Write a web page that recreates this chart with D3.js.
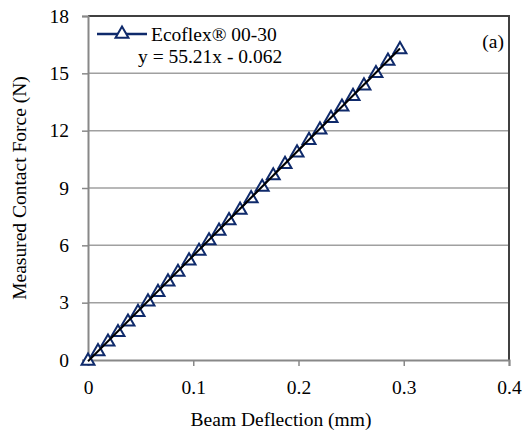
<!DOCTYPE html>
<html>
<head>
<meta charset="utf-8">
<script src="https://cdn.jsdelivr.net/npm/d3@7"></script>
<style>
  body { margin: 0; background: #fff; }
  svg text { font-family: "Times New Roman", "Liberation Serif", Tinos, serif; fill: #000; }
</style>
</head>
<body>
<div id="chart"></div>
<script>
// beam deflection (mm) vs measured contact force (N)
var deflection = [0, 0.0095, 0.019, 0.0285, 0.038, 0.0475, 0.057, 0.0665, 0.076, 0.0855,
    0.096, 0.1055, 0.115, 0.1245, 0.134, 0.1445, 0.155, 0.1655, 0.176, 0.1872,
    0.1986, 0.21, 0.2204, 0.2309, 0.2413, 0.2518, 0.2622, 0.2736, 0.285, 0.2964];
var force = [0, 0.5, 1.0, 1.5, 2.05, 2.55, 3.1, 3.6, 4.15, 4.65,
    5.25, 5.75, 6.3, 6.8, 7.35, 7.9, 8.5, 9.1, 9.7, 10.3,
    10.9, 11.55, 12.1, 12.7, 13.3, 13.85, 14.4, 15.05, 15.7, 16.3];
var xTicks = [0, 0.1, 0.2, 0.3, 0.4];
var yTicks = [0, 3, 6, 9, 12, 15, 18];
var fitSlope = 55.21, fitIntercept = -0.062;
var seriesName = "Ecoflex\u00AE 00-30";
var fitLabel = "y = 55.21x - 0.062";

var W = 523, H = 430;
var margin = {left: 88, right: 14, top: 16, bottom: 70};
var width = W - margin.left - margin.right,
    height = H - margin.top - margin.bottom;
var navy = "#0f2a6b";
var fs = 19.5;

var svg = d3.select("#chart").append("svg")
    .attr("width", W).attr("height", H);
var g = svg.append("g")
    .attr("transform", `translate(${margin.left},${margin.top})`);

var x = d3.scaleLinear().domain([0, 0.4]).range([0, width]);
var y = d3.scaleLinear().domain([0, 18]).range([height, 0]);

// gridlines
g.selectAll("line.grid")
    .data(yTicks.slice(1, -1))
  .enter().append("line")
    .attr("class", "grid")
    .attr("x1", 0).attr("x2", width)
    .attr("y1", d => y(d)).attr("y2", d => y(d))
    .attr("stroke", "#a0a0a0").attr("stroke-width", 1.5);

// frame: top and right dark
g.append("path")
    .attr("d", `M0,0H${width}V${height}`)
    .attr("fill", "none").attr("stroke", "#404040").attr("stroke-width", 2);

var xAxis = d3.axisBottom(x).tickValues(xTicks).tickFormat(d3.format("")).tickSize(6).tickPadding(14);
var yAxis = d3.axisLeft(y).tickValues(yTicks).tickSize(6).tickPadding(13);

var gx = g.append("g").attr("transform", `translate(0,${height})`).call(xAxis);
var gy = g.append("g").call(yAxis);
[gx, gy].forEach(function(a) {
  a.attr("font-family", null).attr("font-size", fs);
  a.select(".domain").attr("stroke", "#888").attr("stroke-width", 2);
  a.selectAll(".tick line").attr("stroke", "#888").attr("stroke-width", 1.5);
});

// data series
var pts = deflection.map((d, i) => [d, force[i]]);
g.append("path")
    .datum(pts)
    .attr("fill", "none").attr("stroke", navy).attr("stroke-width", 2)
    .attr("d", d3.line().x(d => x(d[0])).y(d => y(d[1])));

var tri = d3.symbol().type(d3.symbolTriangle).size(72);
g.selectAll("path.pt")
    .data(pts)
  .enter().append("path")
    .attr("class", "pt")
    .attr("d", tri)
    .attr("transform", d => `translate(${x(d[0])},${y(d[1]) + 1})`)
    .attr("fill", "#fff").attr("stroke", navy).attr("stroke-width", 2);

// linear fit
var x0 = deflection[0], x1 = deflection[deflection.length - 1];
g.append("line")
    .attr("x1", x(x0)).attr("y1", y(fitSlope * x0 + fitIntercept))
    .attr("x2", x(x1)).attr("y2", y(fitSlope * x1 + fitIntercept))
    .attr("stroke", "#000").attr("stroke-width", 2);

// legend
var lg = svg.append("g");
lg.append("line").attr("x1", 97).attr("x2", 147).attr("y1", 34).attr("y2", 34)
    .attr("stroke", navy).attr("stroke-width", 2.5);
lg.append("path").attr("d", tri).attr("transform", "translate(122,34)")
    .attr("fill", "#fff").attr("stroke", navy).attr("stroke-width", 2);
lg.append("text").attr("x", 151).attr("y", 41).attr("font-size", fs).text(seriesName);
lg.append("text").attr("x", 138).attr("y", 63).attr("font-size", fs).text(fitLabel);

svg.append("text").attr("x", 504).attr("y", 48).attr("text-anchor", "end")
    .attr("font-size", fs).text("(a)");

// axis titles
svg.append("text")
    .attr("x", 281).attr("y", 426)
    .attr("text-anchor", "middle").attr("font-size", fs)
    .text("Beam Deflection (mm)");
svg.append("text")
    .attr("transform", `translate(26,${margin.top + height / 2}) rotate(-90)`)
    .attr("text-anchor", "middle").attr("font-size", fs)
    .text("Measured Contact Force (N)");
</script>
</body>
</html>
